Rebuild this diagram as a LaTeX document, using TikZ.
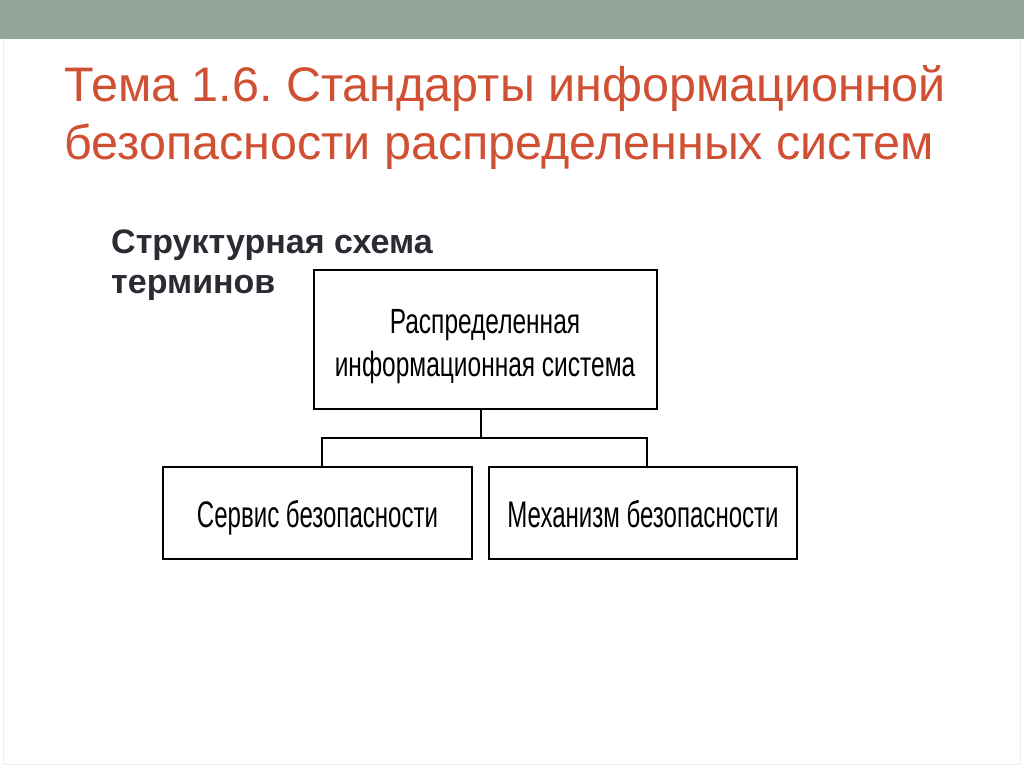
\documentclass[tikz,border=0pt]{standalone}
\usepackage{fontspec}
\setmainfont{Liberation Sans}
\newfontfamily\narrowfont[FakeStretch=0.70]{Liberation Sans}
\newfontfamily\narrowerfont[FakeStretch=0.65]{Liberation Sans}
\definecolor{bandgray}{RGB}{148,166,156}
\definecolor{titlered}{RGB}{208,80,52}
\definecolor{subgray}{RGB}{43,43,51}
\definecolor{framegray}{RGB}{235,235,235}
\tikzset{
  titletext/.style={anchor=base west, inner sep=0pt, text=titlered, font=\fontsize{48.5}{57}\selectfont},
  subtext/.style={anchor=base west, inner sep=0pt, text=subgray, font=\fontsize{34}{40}\selectfont\bfseries},
  box/.style={draw=black, line width=2.4pt, fill=white, inner sep=0pt},
  topfont/.style={anchor=base, inner sep=0pt, font=\narrowfont\fontsize{35}{43}\selectfont},
  lowfont/.style={anchor=base, inner sep=0pt, font=\narrowerfont\fontsize{37}{44}\selectfont},
  link/.style={draw=black, line width=1.4pt}
}
\begin{document}
\frenchspacing
\begin{tikzpicture}[x=1pt,y=-1pt]
\useasboundingbox (0,0) rectangle (1024,767);
\fill[white] (0,0) rectangle (1024,767);
\fill[bandgray] (0,0) rectangle (1024,39);
\draw[framegray, line width=1pt] (3,39) -- (3,764) -- (1020,764) -- (1020,39);
\node[titletext] (t1) at (64,102) {Тема 1.6. Стандарты информационной};
\node[titletext] (t2) at (64,160) {безопасности распределенных систем};
\node[subtext] (s1) at (111,253) {Структурная схема};
\node[subtext] (s2) at (111,293) {терминов};
\node[box, minimum width=343pt, minimum height=139pt] (top) at (485.5,339.5) {};
\node[topfont] (top1) at (485,333) {Распределенная};
\node[topfont] (top2) at (485,376) {информационная система};
\node[box, minimum width=309pt, minimum height=92pt] (left) at (317.5,513) {};
\node[lowfont] (lefttxt) at (317.5,527) {Сервис безопасности};
\node[box, minimum width=308pt, minimum height=92pt] (right) at (643,513) {};
\node[lowfont] (righttxt) at (643,527) {Механизм безопасности};
\coordinate (j) at (481,438);
\draw[link] (top.south -| j) -- (j);
\draw[link] (left.north -| 322,0) |- (j) -| (right.north -| 647,0);
\end{tikzpicture}
\end{document}
